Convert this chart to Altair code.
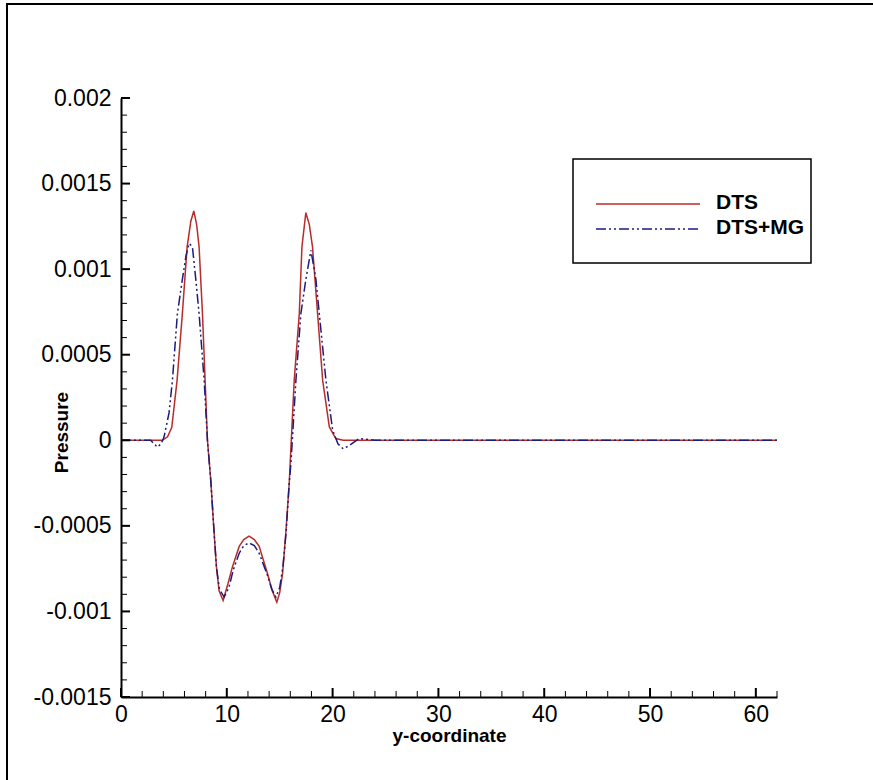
import altair as alt
import pandas as pd

# ---- data ----
dts_x = [0, 2, 3.9, 4.4, 4.8, 5.3, 5.8, 6.25, 6.6, 6.88, 7.15, 7.38, 7.7, 7.95, 8.17, 8.48,
         8.8, 9.02, 9.27, 9.65, 10.1, 10.53, 11.17, 11.6, 12.1, 12.6, 13.06, 13.85, 14.3,
         14.73, 15.0, 15.27, 15.58, 15.9, 16.2, 16.37, 16.85, 17.1, 17.47, 17.8, 18.1,
         18.58, 19.06, 19.69, 20.3, 21, 25, 30, 40, 50, 62]
dts_p = [0, 0, 0, 0.00002, 0.000076, 0.00035, 0.00074, 0.00113, 0.00128, 0.00134, 0.00126,
         0.00113, 0.00074, 0.00035, 0, -0.00023, -0.00054, -0.00074, -0.00088, -0.000936,
         -0.00084, -0.00074, -0.00062, -0.00058, -0.00056, -0.00058, -0.00062, -0.00078,
         -0.00088, -0.000946, -0.00089, -0.00078, -0.00054, -0.00025, 0.000136, 0.00035,
         0.00074, 0.00113, 0.00133, 0.00126, 0.00113, 0.00074, 0.00035, 0.000078, 0.00001,
         0, 0, 0, 0, 0, 0]

mg_x = [0, 2.8, 3.44, 3.8, 4.07, 4.54, 4.86, 5.33, 5.8, 6.15, 6.44, 6.75, 7.07, 7.38, 7.86,
        8.17, 8.48, 8.8, 9.02, 9.3, 9.75, 10.2, 10.6, 11.17, 11.6, 12.1, 12.6, 13.06, 13.85,
        14.25, 14.64, 15.0, 15.3, 15.6, 15.9, 16.06, 16.53, 17.0, 17.47, 17.95, 18.42, 18.74,
        19.37, 20.0, 20.5, 21.0, 21.6, 22.5, 24, 30, 40, 50, 62]
mg_p = [0, 0, -0.00004, -0.00002, 0.00002, 0.00016, 0.00035, 0.00074, 0.00094, 0.00108,
        0.00115, 0.00113, 0.00094, 0.00074, 0.00035, 0, -0.00023, -0.00054, -0.00074,
        -0.00087, -0.000916, -0.00086, -0.00076, -0.00066, -0.000615, -0.0006, -0.000615,
        -0.00066, -0.00079, -0.00087, -0.000916, -0.00086, -0.00074, -0.00054, -0.00025,
        -0.000135, 0.00035, 0.00074, 0.00094, 0.00111, 0.00094, 0.00074, 0.00035, 0.00006,
        -0.00002, -0.00005, -0.00003, 0.00001, 0, 0, 0, 0, 0]

series_names = ["DTS", "DTS+MG"]
series_colors = ["#b82c2c", "#1c1c7c"]

x_major = [0, 10, 20, 30, 40, 50, 60]
x_minor = [2, 4, 6, 8, 12, 14, 16, 18, 22, 24, 26, 28, 32, 34, 36, 38, 42, 44, 46, 48,
           52, 54, 56, 58, 62]
y_major = [-0.0015, -0.001, -0.0005, 0, 0.0005, 0.001, 0.0015, 0.002]
y_minor = [-0.0014, -0.0013, -0.0012, -0.0011, -0.0009, -0.0008, -0.0007, -0.0006,
           -0.0004, -0.0003, -0.0002, -0.0001, 0.0001, 0.0002, 0.0003, 0.0004,
           0.0006, 0.0007, 0.0008, 0.0009, 0.0011, 0.0012, 0.0013, 0.0014,
           0.0016, 0.0017, 0.0018, 0.0019]

W, H = 656, 599
FONT = "Liberation Sans"

xs = alt.Scale(domain=[0, 62], nice=False, zero=False)
ys = alt.Scale(domain=[-0.0015, 0.002], nice=False, zero=False)

df_dts = pd.DataFrame({"x": dts_x, "p": dts_p})
df_mg = pd.DataFrame({"x": mg_x, "p": mg_p})

x_axis = alt.Axis(values=x_major, format="d", tickSize=0, grid=False, domainWidth=2,
                  domainColor="black", labelFont=FONT, labelFontSize=23, labelFlush=False,
                  labelColor="black", labelPadding=6, title="y-coordinate",
                  titleFont=FONT, titleFontSize=19, titleFontWeight="bold",
                  titleColor="black", titlePadding=0)
y_axis = alt.Axis(values=y_major, labelExpr="'' + datum.value", tickSize=0, grid=False,
                  domainWidth=2, domainColor="black", labelFont=FONT, labelFontSize=23,
                  labelFlush=False, labelColor="black", labelPadding=10, title="Pressure",
                  titleFont=FONT, titleFontSize=19, titleFontWeight="bold",
                  titleColor="black", titleAngle=-90, titleX=-60, titleY=334,
                  titleAlign="center", titleBaseline="middle")

line_dts = alt.Chart(df_dts).mark_line(color=series_colors[0], strokeWidth=1.5).encode(
    x=alt.X("x:Q", scale=xs, axis=x_axis),
    y=alt.Y("p:Q", scale=ys, axis=y_axis),
)
line_mg = alt.Chart(df_mg).mark_line(color=series_colors[1], strokeWidth=1.5,
                                     strokeDash=[10, 3, 2, 3, 2, 3]).encode(
    x=alt.X("x:Q", scale=xs),
    y=alt.Y("p:Q", scale=ys),
)

# inward ticks
xmaj = alt.Chart(pd.DataFrame({"t": x_major})).mark_rule(color="black", strokeWidth=2).encode(
    x=alt.X("t:Q", scale=xs), y=alt.value(H), y2=alt.value(H - 9))
xmin = alt.Chart(pd.DataFrame({"t": x_minor})).mark_rule(color="black", strokeWidth=1).encode(
    x=alt.X("t:Q", scale=xs), y=alt.value(H), y2=alt.value(H - 6))
ymaj = alt.Chart(pd.DataFrame({"t": y_major})).mark_rule(color="black", strokeWidth=2).encode(
    y=alt.Y("t:Q", scale=ys), x=alt.value(0), x2=alt.value(9))
ymin = alt.Chart(pd.DataFrame({"t": y_minor})).mark_rule(color="black", strokeWidth=1).encode(
    y=alt.Y("t:Q", scale=ys), x=alt.value(0), x2=alt.value(6))

# outer frame of the figure
frame = alt.Chart(pd.DataFrame({"a": [0]})).mark_rect(
    fill=None, stroke="black", strokeWidth=2).encode(
    x=alt.value(7 - 121), x2=alt.value(873 - 121 + 20),
    y=alt.value(4 - 98), y2=alt.value(780 - 98 + 20))

# legend box
lbox = alt.Chart(pd.DataFrame({"a": [0]})).mark_rect(
    fill="white", stroke="black", strokeWidth=1.5).encode(
    x=alt.value(573 - 121), x2=alt.value(811 - 121),
    y=alt.value(159 - 98), y2=alt.value(263 - 98))
leg_dts = alt.Chart(pd.DataFrame({"a": [0]})).mark_rule(
    color=series_colors[0], strokeWidth=1.5).encode(
    x=alt.value(596 - 121), x2=alt.value(700 - 121), y=alt.value(204 - 98))
leg_mg = alt.Chart(pd.DataFrame({"a": [0]})).mark_rule(
    color=series_colors[1], strokeWidth=1.5, strokeDash=[10, 3, 2, 3, 2, 3]).encode(
    x=alt.value(596 - 121), x2=alt.value(700 - 121), y=alt.value(229 - 98))
txt_dts = alt.Chart(pd.DataFrame({"a": [0]})).mark_text(
    font=FONT, fontSize=21, fontWeight="bold", align="left", baseline="middle",
    color="black").encode(x=alt.value(716 - 121), y=alt.value(203 - 98),
                          text=alt.value(series_names[0]))
txt_mg = alt.Chart(pd.DataFrame({"a": [0]})).mark_text(
    font=FONT, fontSize=21, fontWeight="bold", align="left", baseline="middle",
    color="black").encode(x=alt.value(716 - 121), y=alt.value(228 - 98),
                          text=alt.value(series_names[1]))

chart = alt.layer(
    frame, line_dts, line_mg, xmaj, xmin, ymaj, ymin, lbox, leg_dts, leg_mg, txt_dts, txt_mg
).properties(
    width=W, height=H,
    autosize=alt.AutoSizeParams(type="none"),
    padding={"left": 121, "top": 98, "right": 96, "bottom": 83},
    background="white",
).configure_view(stroke=None)

chart.save("out.html", embed_options={"renderer": "svg", "actions": False})
